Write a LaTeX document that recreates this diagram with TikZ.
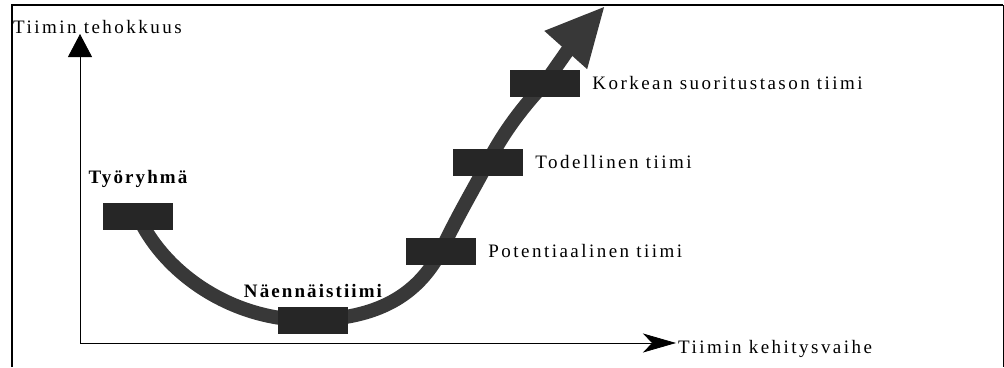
\documentclass[tikz,border=0pt]{standalone}
\usepackage{fontspec}
\setmainfont{Liberation Serif}
\usetikzlibrary{positioning,arrows.meta,backgrounds}
\begin{document}
\begin{tikzpicture}[x=1pt,y=-1pt]
\tikzset{every node/.style={font=\fontsize{19}{21}\selectfont\addfontfeature{LetterSpace=13}}}
\tikzset{stage/.style={fill=black!85,minimum width=70pt,minimum height=27pt,inner sep=0pt}}
\tikzset{stagetext/.style={inner sep=0pt}}
\tikzset{boldtext/.style={inner sep=0pt,font=\fontsize{19}{21}\selectfont\bfseries\addfontfeature{LetterSpace=11}}}
\useasboundingbox (0,0) rectangle (1004,367);

% Frame
\draw[line width=2pt] (12,367) -- (12,5) -- (1003,5);
\draw[line width=1pt] (1003,5) -- (1003,367);

% Axes
\coordinate (O) at (80,343);
\coordinate (ytip) at (80,34);
\coordinate (xtip) at (676,343);
\draw[line width=0.8pt,-{Triangle[length=23pt,width=24pt]}] (O) -- (ytip);
\draw[line width=0.8pt,-{Stealth[length=33pt,width=19pt,inset=9pt]}] (O) -- (xtip);
\node[anchor=base west,inner sep=0pt] at (13,33) (ylabel) {Tiimin tehokkuus};
\node[anchor=base west,inner sep=0pt] at (678,353) (xlabel) {Tiimin kehitysvaihe};

% Stages
\node[stage] at (138,216) (tyoryhma) {};
\node[stage] at (313,320) (naennais) {};
\node[stage] at (441,251) (potent) {};
\node[stage] at (488,162) (todell) {};
\node[stage] at (545,83) (korkea) {};
\coordinate (tip) at (605,6);

% Stage names
\node[boldtext,above=15pt of tyoryhma] (l1) {Työryhmä};
\node[boldtext,above=8pt of naennais] (l2) {Näennäistiimi};
\node[stagetext,right=12pt of potent] (l3) {Potentiaalinen tiimi};
\node[stagetext,right=12pt of todell] (l4) {Todellinen tiimi};
\node[stagetext,right=12pt of korkea] (l5) {Korkean suoritustason tiimi};

% Curve
\begin{scope}[on background layer]
\draw[line width=14pt,black!78,-{Triangle[length=59pt,width=53pt]}]
  (tyoryhma.center) .. controls (165,275) and (235,322) .. (naennais.center)
  .. controls (385,318) and (420,290) .. (potent.center)
  .. controls (458,215) and (472,192) .. (todell.center)
  .. controls (505,130) and (522,108) .. (korkea.center)
  .. controls (562,58) and (580,34) .. (tip);
\end{scope}
\end{tikzpicture}
\end{document}
